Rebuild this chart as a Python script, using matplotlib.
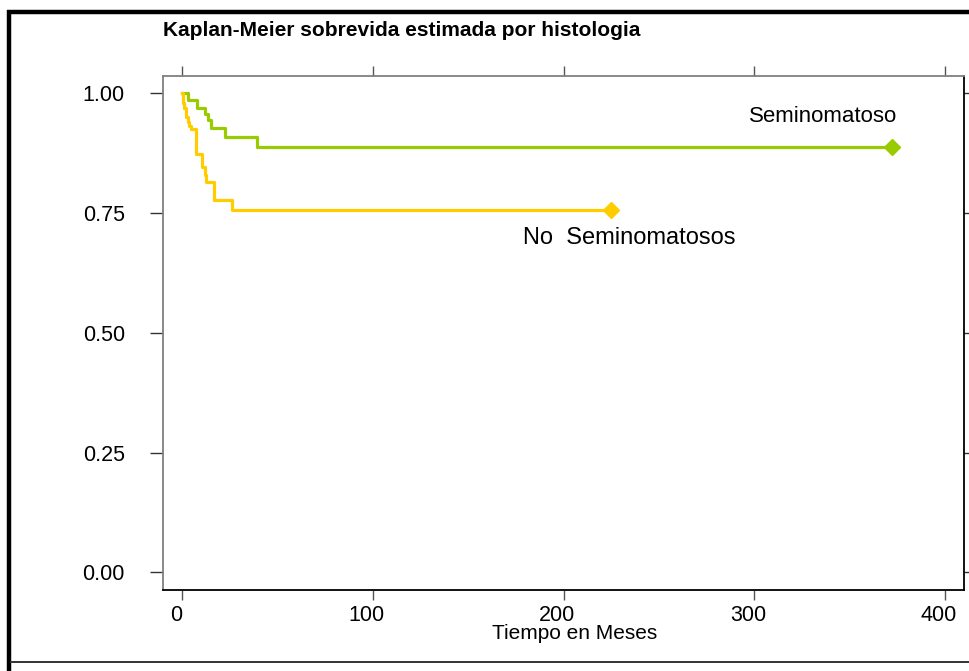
import matplotlib
matplotlib.use('Agg')
import matplotlib.pyplot as plt
from matplotlib.lines import Line2D
import matplotlib.transforms as mtransforms

plt.rcParams['font.family'] = ['Liberation Sans', 'DejaVu Sans']

# Kaplan-Meier step data
green_t = [0, 3.3, 7.7, 12, 13.8, 15, 22.5, 39.4, 372]
green_s = [1.0, 0.986, 0.970, 0.957, 0.944, 0.928, 0.909, 0.888, 0.888]

yellow_t = [0, 0.3, 0.6, 0.9, 1.9, 2.3, 3.2, 3.7, 4.9, 7.4, 10.6, 11.9, 12.8, 16.6, 26.4, 225]
yellow_s = [1.0, 0.99, 0.979, 0.97, 0.962, 0.951, 0.941, 0.933, 0.925, 0.874, 0.846, 0.829,
            0.815, 0.777, 0.757, 0.757]

x_ticks = [0, 100, 200, 300, 400]
y_ticks = [0.0, 0.25, 0.5, 0.75, 1.0]
y_tick_labels = ['0.00', '0.25', '0.50', '0.75', '1.00']

green = '#99CC00'
yellow = '#FFCC00'

fig = plt.figure(figsize=(9.7, 6.71), dpi=100)
ax = fig.add_axes([163 / 970, 1 - 590 / 671, (964 - 163) / 970, (590 - 75.7) / 671])

ax.plot(green_t, green_s, drawstyle='steps-post', color=green, lw=2.3)
ax.plot(green_t[-1], green_s[-1], marker='D', color=green, ms=8, mec=green)
ax.plot(yellow_t, yellow_s, drawstyle='steps-post', color=yellow, lw=2.3)
ax.plot(yellow_t[-1], yellow_s[-1], marker='D', color=yellow, ms=8, mec=yellow)

ax.text(375, 0.951, 'Seminomatoso', ha='right', va='center', fontsize=16)
ax.text(178.6, 0.699, 'No  Seminomatosos', ha='left', va='center', fontsize=17)

ax.set_xlim(-10, 410)
ax.set_ylim(-0.037, 1.037)
ax.set_xticks(x_ticks)
ax.set_yticks(y_ticks)
ax.set_yticklabels(y_tick_labels)

ax.tick_params(axis='x', which='both', top=True, bottom=True, direction='out',
               length=7.5, width=1, labelsize=15.5, pad=3.5, color='#555555')
ax.tick_params(axis='y', which='both', left=True, right=True, direction='out',
               length=9.5, width=1, labelsize=15.5, pad=18, color='#333333')

# shift x tick labels slightly left as in the picture
offset = mtransforms.ScaledTranslation(-6 / 100, 0, fig.dpi_scale_trans)
for lab in ax.get_xticklabels():
    lab.set_transform(lab.get_transform() + offset)

ax.spines['left'].set_color('#808080')
ax.spines['top'].set_color('#808080')
ax.spines['bottom'].set_color('black')
ax.spines['right'].set_color('black')
for s in ax.spines.values():
    s.set_linewidth(1.3)

ax.set_xlabel('Tiempo en Meses', fontsize=15)
ax.xaxis.set_label_coords(0.514, -0.067)

fig.text(163 / 970, 1 - 30 / 671, 'Kaplan-Meier sobrevida estimada por histologia',
         ha='left', va='center', fontsize=15, fontweight='bold')

# figure border lines
fig.add_artist(Line2D([9 / 970, 9 / 970], [0, 1 - 10 / 671], transform=fig.transFigure,
                      color='black', lw=3.2, solid_capstyle='butt'))
fig.add_artist(Line2D([7 / 970, 1], [1 - 12 / 671, 1 - 12 / 671], transform=fig.transFigure,
                      color='black', lw=3.2, solid_capstyle='butt'))
fig.add_artist(Line2D([10 / 970, 1], [1 - 662 / 671, 1 - 662 / 671], transform=fig.transFigure,
                      color='#333333', lw=1.4, solid_capstyle='butt'))

plt.savefig('out.png', dpi=100)
